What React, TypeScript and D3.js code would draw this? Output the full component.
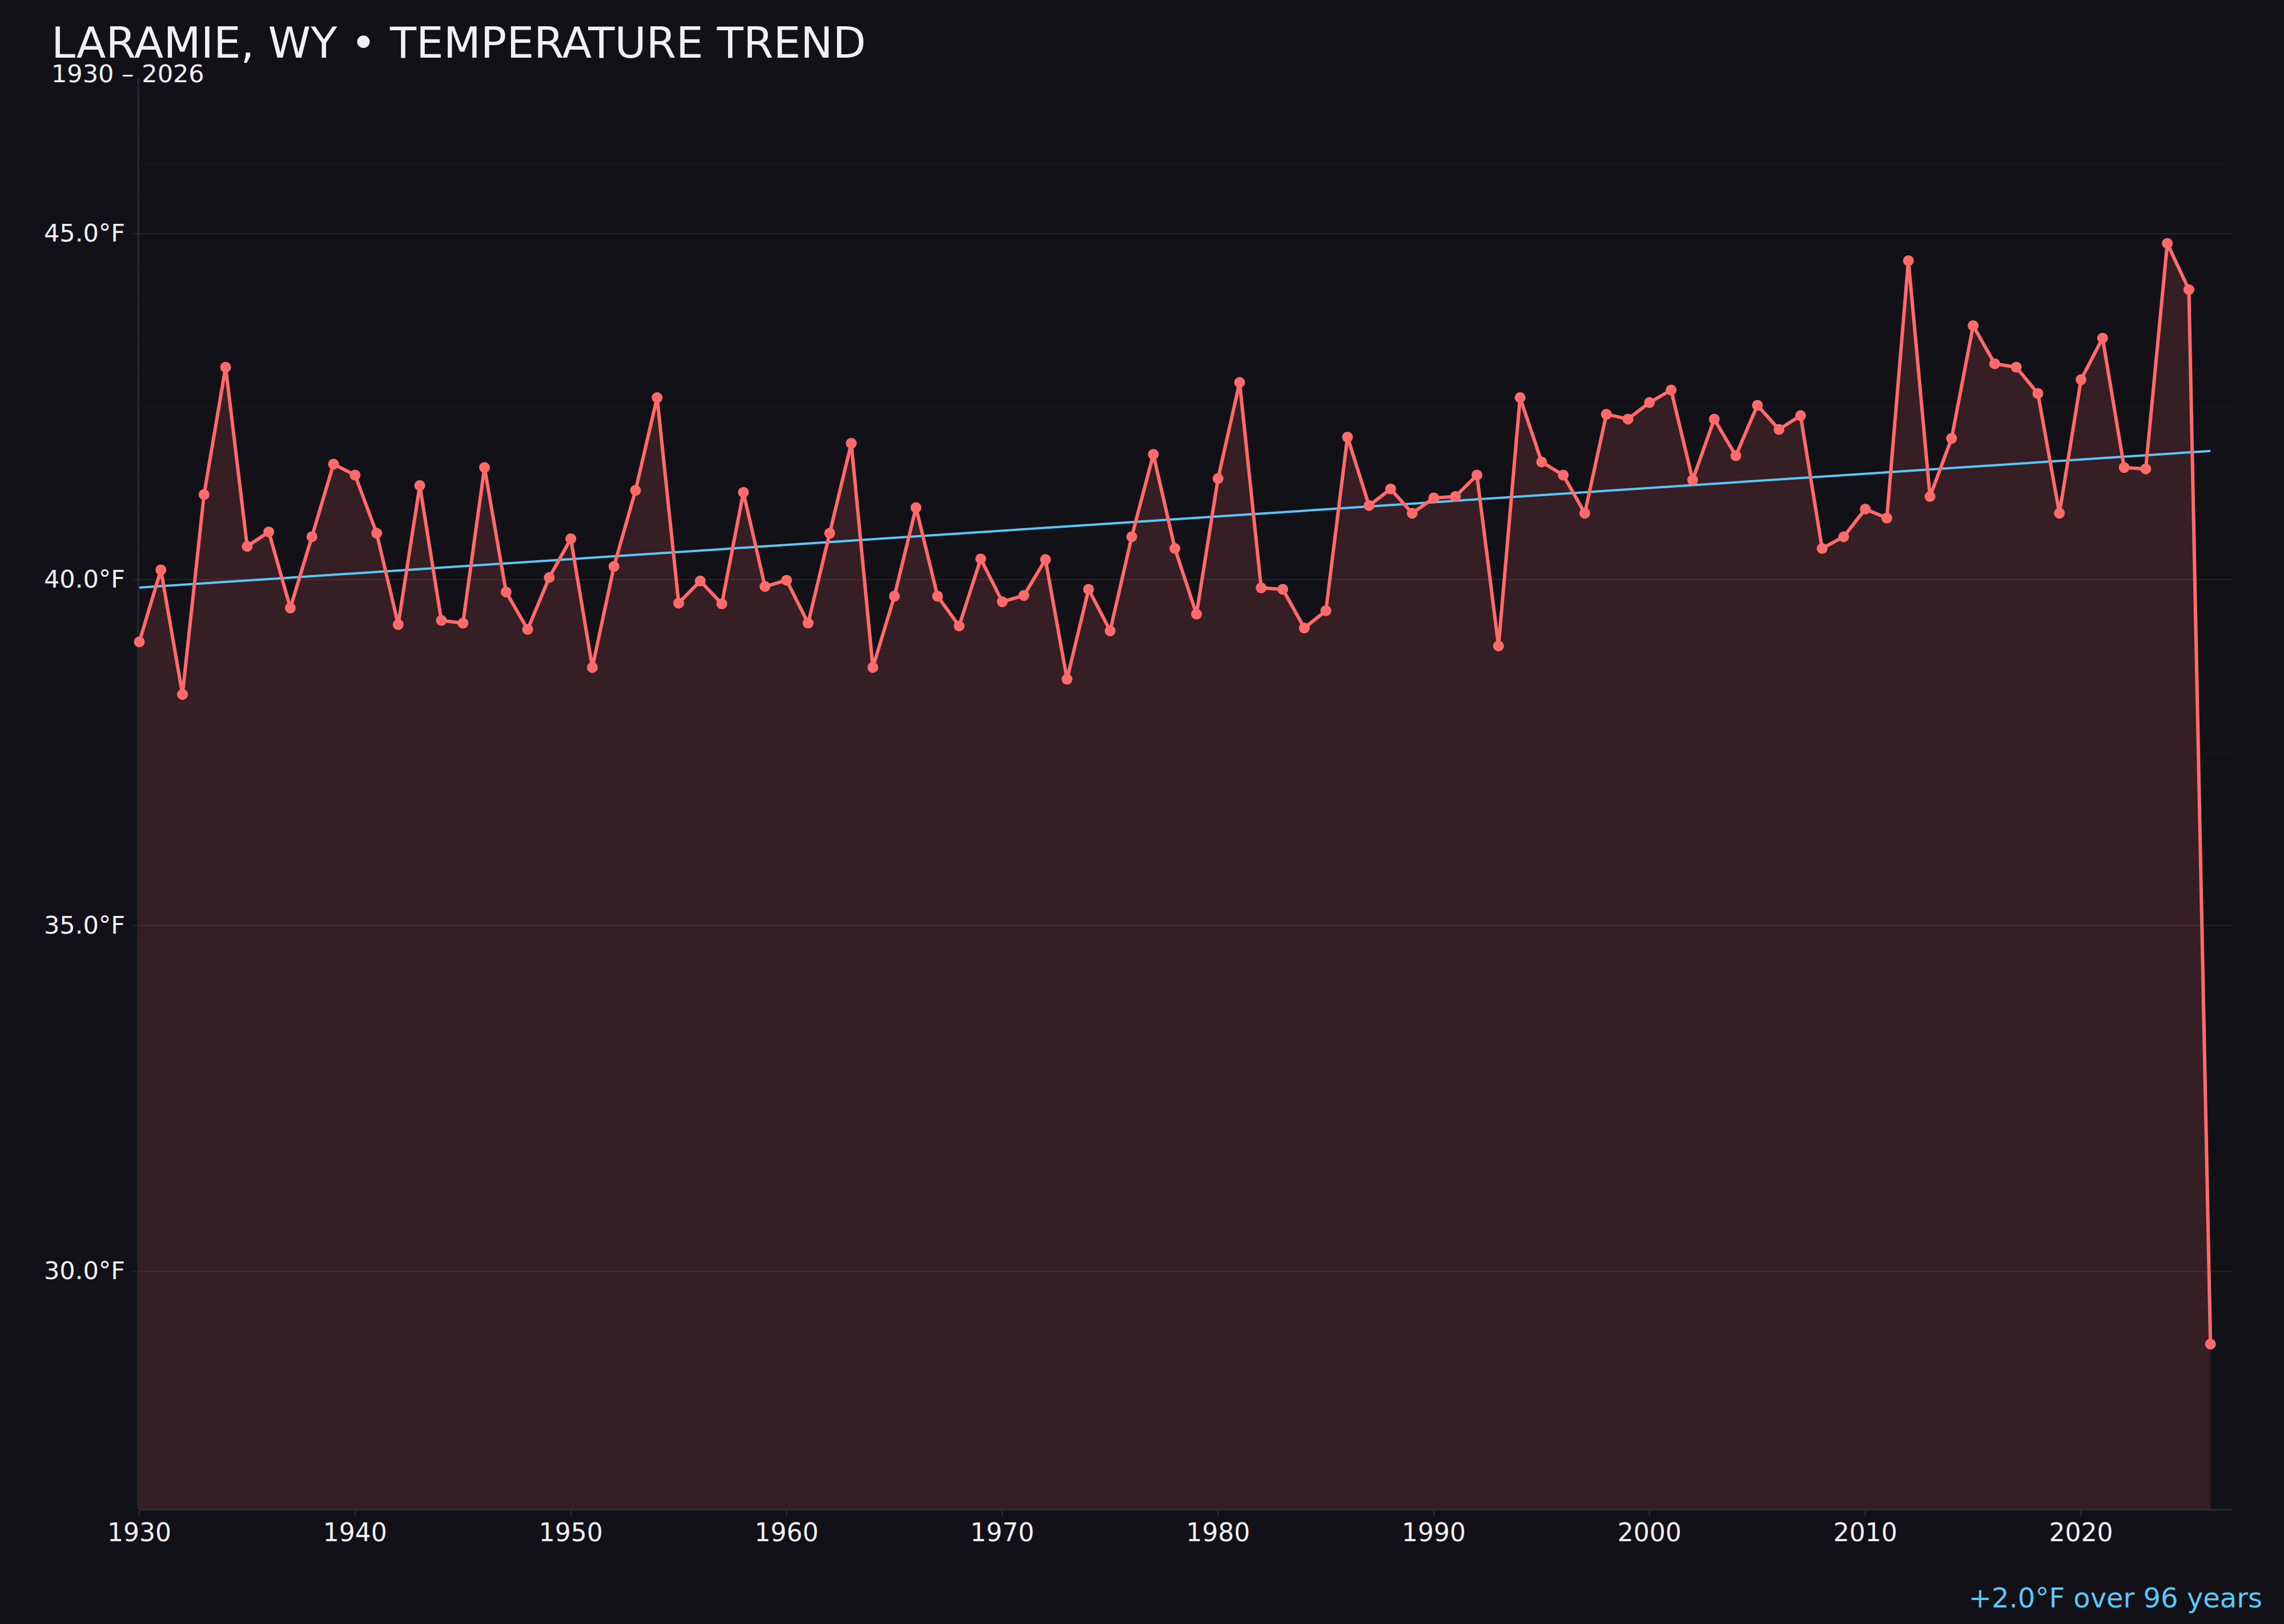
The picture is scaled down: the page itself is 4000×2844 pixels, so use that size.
import React, { useEffect, useRef } from "react";
import * as d3 from "d3";

const years: number[] = [
  1930, 1931, 1932, 1933, 1934, 1935, 1936, 1937, 1938, 1939,
  1940, 1941, 1942, 1943, 1944, 1945, 1946, 1947, 1948, 1949,
  1950, 1951, 1952, 1953, 1954, 1955, 1956, 1957, 1958, 1959,
  1960, 1961, 1962, 1963, 1964, 1965, 1966, 1967, 1968, 1969,
  1970, 1971, 1972, 1973, 1974, 1975, 1976, 1977, 1978, 1979,
  1980, 1981, 1982, 1983, 1984, 1985, 1986, 1987, 1988, 1989,
  1990, 1991, 1992, 1993, 1994, 1995, 1996, 1997, 1998, 1999,
  2000, 2001, 2002, 2003, 2004, 2005, 2006, 2007, 2008, 2009,
  2010, 2011, 2012, 2013, 2014, 2015, 2016, 2017, 2018, 2019,
  2020, 2021, 2022, 2023, 2024, 2025, 2026,
];

const temps: number[] = [
  39.10, 40.14, 38.34, 41.23, 43.07, 40.48, 40.69, 39.59, 40.62, 41.67,
  41.51, 40.67, 39.35, 41.36, 39.41, 39.37, 41.62, 39.82, 39.28, 40.03,
  40.59, 38.73, 40.19, 41.29, 42.63, 39.66, 39.98, 39.65, 41.26, 39.90,
  39.99, 39.37, 40.67, 41.97, 38.73, 39.76, 41.04, 39.76, 39.33, 40.30,
  39.68, 39.77, 40.29, 38.56, 39.86, 39.26, 40.62, 41.81, 40.45, 39.50,
  41.46, 42.85, 39.88, 39.86, 39.30, 39.55, 42.06, 41.07, 41.31, 40.96,
  41.18, 41.20, 41.51, 39.04, 42.63, 41.70, 41.51, 40.96, 42.39, 42.32,
  42.56, 42.74, 41.44, 42.32, 41.79, 42.52, 42.17, 42.37, 40.45, 40.62,
  41.02, 40.89, 44.61, 41.20, 42.04, 43.67, 43.12, 43.07, 42.69, 40.96,
  42.89, 43.49, 41.62, 41.60, 44.86, 44.19, 28.95,
];

const xTickValues: number[] = [1930, 1940, 1950, 1960, 1970, 1980, 1990, 2000, 2010, 2020];
const yTickValues: number[] = [30, 35, 40, 45];

const titleText = "LARAMIE, WY • TEMPERATURE TREND";
const subtitleText = "1930 – 2026";

const W = 4000;
const H = 2844;
const FONT = "'DejaVu Sans', sans-serif";
const BG = "#121118";
const LINE = "#ff6b6b";
const TREND = "#5ac8fa";
const TEXT = "#f2f0f7";

export default function App() {
  const ref = useRef<SVGSVGElement | null>(null);

  useEffect(() => {
    document.body.style.margin = "0";
    document.body.style.background = BG;
    const svg = d3.select(ref.current);
    svg.selectAll("*").remove();

    const data = years.map((y, i) => ({ year: y, t: temps[i] }));
    const tMin = d3.min(temps) as number;
    const tMax = d3.max(temps) as number;
    const pad = (tMax - tMin) * 0.15;

    const x = d3.scaleLinear().domain([1930, 2027]).range([244, 3909]);
    const y = d3.scaleLinear().domain([tMin - pad, tMax + pad]).range([2643, 137]);

    svg.append("rect").attr("width", W).attr("height", H).attr("fill", BG);

    // minor gridlines every 0.5
    const minor = d3.range(Math.ceil(y.domain()[0] * 2) / 2, y.domain()[1], 0.5);
    svg.append("g")
      .selectAll("line")
      .data(minor)
      .join("line")
      .attr("x1", x(1930)).attr("x2", x(2027))
      .attr("y1", (d) => y(d)).attr("y2", (d) => y(d))
      .attr("stroke", "#ffffff").attr("stroke-opacity", 0.02).attr("stroke-width", 2);

    // major gridlines
    svg.append("g")
      .selectAll("line")
      .data(yTickValues)
      .join("line")
      .attr("x1", x(1930) - 13).attr("x2", x(2027))
      .attr("y1", (d) => y(d)).attr("y2", (d) => y(d))
      .attr("stroke", "#ffffff").attr("stroke-opacity", 0.06).attr("stroke-width", 2.5);

    // area
    const area = d3.area<{ year: number; t: number }>()
      .x((d) => x(d.year))
      .y0(y.range()[0])
      .y1((d) => y(d.t));
    svg.append("path").datum(data).attr("d", area).attr("fill", LINE).attr("fill-opacity", 0.15);

    // axes lines
    svg.append("line")
      .attr("x1", x(1930) - 2).attr("x2", x(1930) - 2)
      .attr("y1", y.range()[1]).attr("y2", y.range()[0])
      .attr("stroke", "#2a2a33").attr("stroke-width", 3);
    svg.append("line")
      .attr("x1", x(1930)).attr("x2", x(2027))
      .attr("y1", 2644).attr("y2", 2644)
      .attr("stroke", "#2c2c36").attr("stroke-width", 3);

    // x ticks
    const xt = svg.append("g");
    xt.selectAll("line")
      .data(xTickValues)
      .join("line")
      .attr("x1", (d) => x(d)).attr("x2", (d) => x(d))
      .attr("y1", 2644).attr("y2", 2655)
      .attr("stroke", "#2c2c36").attr("stroke-width", 2.5);
    xt.selectAll("text")
      .data(xTickValues)
      .join("text")
      .attr("x", (d) => x(d)).attr("y", 2699)
      .attr("text-anchor", "middle")
      .attr("font-family", FONT).attr("font-size", 44).attr("fill", TEXT)
      .text((d) => String(d));

    // y labels
    svg.append("g")
      .selectAll("text")
      .data(yTickValues)
      .join("text")
      .attr("x", 219).attr("y", (d) => y(d))
      .attr("dy", "0.32em")
      .attr("text-anchor", "end")
      .attr("font-family", FONT).attr("font-size", 43).attr("fill", TEXT)
      .text((d) => `${d.toFixed(1)}°F`);

    // trend line (least squares)
    const mx = d3.mean(years) as number;
    const my = d3.mean(temps) as number;
    let sxy = 0, sxx = 0;
    years.forEach((yr, i) => { sxy += (yr - mx) * (temps[i] - my); sxx += (yr - mx) * (yr - mx); });
    const slope = sxy / sxx;
    const intercept = my - slope * mx;
    const x0 = years[0];
    const x1 = years[years.length - 1];
    svg.append("line")
      .attr("x1", x(x0)).attr("y1", y(intercept + slope * x0))
      .attr("x2", x(x1)).attr("y2", y(intercept + slope * x1))
      .attr("stroke", TREND).attr("stroke-width", 4);

    // main line
    const line = d3.line<{ year: number; t: number }>().x((d) => x(d.year)).y((d) => y(d.t));
    svg.append("path").datum(data).attr("d", line)
      .attr("fill", "none").attr("stroke", LINE).attr("stroke-width", 6)
      .attr("stroke-linejoin", "round");
    svg.append("g")
      .selectAll("circle")
      .data(data)
      .join("circle")
      .attr("cx", (d) => x(d.year)).attr("cy", (d) => y(d.t))
      .attr("r", 9.5).attr("fill", LINE);

    // title
    svg.append("text").attr("x", 90).attr("y", 101)
      .attr("font-family", FONT).attr("font-size", 75.5).attr("fill", TEXT)
      .text(titleText);
    svg.append("text").attr("x", 90).attr("y", 144)
      .attr("font-family", FONT).attr("font-size", 43).attr("fill", TEXT)
      .text(subtitleText);

    // annotation
    const span = x1 - x0;
    const delta = slope * span;
    svg.append("text").attr("x", 3962).attr("y", 2815)
      .attr("text-anchor", "end")
      .attr("font-family", FONT).attr("font-size", 48).attr("fill", TREND)
      .text(`${delta >= 0 ? "+" : ""}${delta.toFixed(1)}°F over ${span} years`);
  }, []);

  return (
    <svg
      ref={ref}
      width={W}
      height={H}
      style={{ position: "absolute", left: 0, top: 0, display: "block" }}
    />
  );
}
